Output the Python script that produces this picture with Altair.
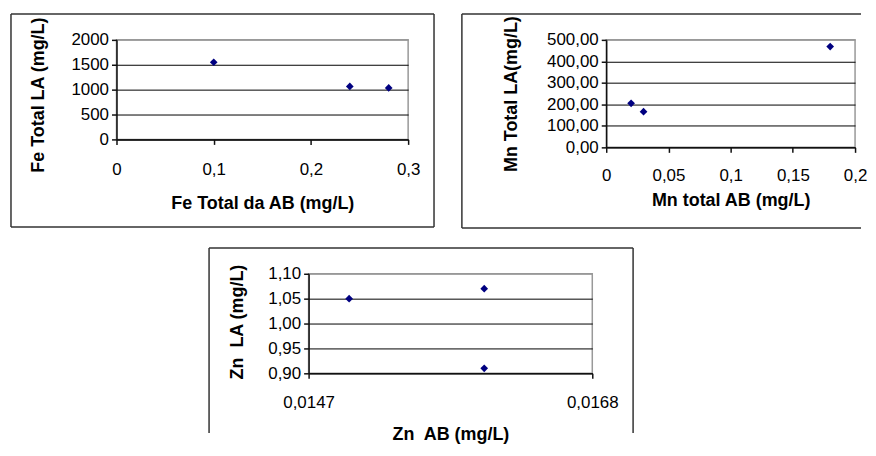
import altair as alt
import pandas as pd

# ---- data ----
fe_ab = [0.10, 0.24, 0.28]
fe_la = [1550, 1065, 1035]
mn_ab = [0.02, 0.03, 0.18]
mn_la = [205, 166, 469]
zn_ab = [0.0150, 0.0160, 0.0160]
zn_la = [1.05, 1.07, 0.91]

fe_x_ticks = [0, 0.1, 0.2, 0.3]
fe_y_ticks = [0, 500, 1000, 1500, 2000]
mn_x_ticks = [0, 0.05, 0.1, 0.15, 0.2]
mn_y_ticks = [0, 100, 200, 300, 400, 500]
zn_x_ticks = [0.0147, 0.0168]
zn_y_ticks = [0.90, 0.95, 1.00, 1.05, 1.10]

FONT = "Liberation Sans"
FRAME = "#333333"
BORDER = "#999999"
POINT = "#000080"

one = pd.DataFrame({"f": [0]})


def frame_rules(left, right, top, bottom, sides):
    layers = []
    if "top" in sides:
        layers.append(alt.Chart(one).mark_rule(color=FRAME, strokeWidth=1.5).encode(
            x=alt.value(left), x2=alt.value(right), y=alt.value(top)))
    if "bottom" in sides:
        layers.append(alt.Chart(one).mark_rule(color=FRAME, strokeWidth=1.5).encode(
            x=alt.value(left), x2=alt.value(right), y=alt.value(bottom)))
    if "left" in sides:
        layers.append(alt.Chart(one).mark_rule(color=FRAME, strokeWidth=1.5).encode(
            x=alt.value(left), y=alt.value(top), y2=alt.value(bottom)))
    if "right" in sides:
        layers.append(alt.Chart(one).mark_rule(color=FRAME, strokeWidth=1.5).encode(
            x=alt.value(right), y=alt.value(top), y2=alt.value(bottom)))
    return layers


def panel(xs, ys, xdom, ydom, xticks, yticks, xexpr, yexpr, xtitle, ytitle,
          W, H, frame, sides, xlabpad, xtitle_y, ytitle_x, ytitle_y):
    df = pd.DataFrame({"x": xs, "y": ys})
    top = yticks[-1]
    pts = alt.Chart(df).mark_point(shape="diamond", filled=True, size=60,
                                   color=POINT, opacity=1).encode(
        x=alt.X("x:Q", scale=alt.Scale(domain=xdom, nice=False, zero=False),
                axis=alt.Axis(values=xticks, labelExpr=xexpr, grid=False,
                              title=xtitle, titleX=W / 2, titleY=xtitle_y,
                              titleAlign="center", titleBaseline="alphabetic",
                              labelBaseline="alphabetic", labelPadding=xlabpad,
                              labelFlush=False)),
        y=alt.Y("y:Q", scale=alt.Scale(domain=ydom, nice=False, zero=False),
                axis=alt.Axis(values=yticks, labelExpr=yexpr, grid=True,
                              gridColor={"condition": {"test": f"abs(datum.value - {top}) < 1e-9",
                                                       "value": BORDER},
                                         "value": "#000000"},
                              title=ytitle, titleX=ytitle_x, titleY=ytitle_y,
                              titleAngle=270, titleAlign="center",
                              titleBaseline="middle", labelPadding=3,
                              labelFlush=False)),
    )
    l, r, t, b = frame
    return alt.layer(*frame_rules(l, r, t, b, sides), pts).properties(width=W, height=H)


p1 = panel(fe_ab, fe_la, [0, 0.3], [0, 2000], fe_x_ticks, fe_y_ticks,
           "replace(format(datum.value, '~g'), '.', ',')",
           "format(datum.value, 'd')",
           "Fe Total da AB (mg/L)", "Fe Total LA (mg/L)",
           293, 100, (-106, 319, -26, 188), ["top", "bottom", "left", "right"],
           30, 69, -78, 55)

p2 = panel(mn_ab, mn_la, [0, 0.2], [0, 500], mn_x_ticks, mn_y_ticks,
           "replace(format(datum.value, '~g'), '.', ',')",
           "replace(format(datum.value, '.2f'), '.', ',')",
           "Mn total AB (mg/L)", "Mn Total LA(mg/L)",
           250, 108, (-145, 256, -26, 189), ["top", "bottom", "left"],
           28, 58, -95, 54)

p3 = panel(zn_ab, zn_la, [0.0147, 0.0168], [0.90, 1.10], zn_x_ticks, zn_y_ticks,
           "replace(format(datum.value, '.4f'), '.', ',')",
           "replace(format(datum.value, '.2f'), '.', ',')",
           "Zn\u00a0 AB (mg/L)", "Zn\u00a0 LA (mg/L)",
           285, 100, (-100, 326, -26, 160), ["top", "left", "right"],
           29, 66, -71, 48)

spacer = alt.Chart(one).mark_point(opacity=0, size=1).encode(
    x=alt.value(0), y=alt.value(0)
).properties(width=91, height=1, view=alt.ViewBackground(strokeOpacity=0))

row1 = alt.hconcat(p1, p2, spacing=24)
row2 = alt.hconcat(spacer, p3, spacing=0)

chart = alt.vconcat(row1, row2, spacing=16).properties(
    padding={"left": 1, "top": 3, "right": 0, "bottom": 0},
    background="white",
).configure_view(
    stroke=BORDER, strokeWidth=1.5
).configure_axis(
    labelFont=FONT, labelFontSize=17, labelColor="#000000",
    titleFont=FONT, titleFontSize=18, titleFontWeight="bold", titleColor="#000000",
    domainColor="#111111", domainWidth=1.5,
    tickColor="#111111", tickWidth=1.5, tickSize=5,
    gridWidth=1,
)

chart.save("out.html", embed_options={"renderer": "svg", "actions": False})
